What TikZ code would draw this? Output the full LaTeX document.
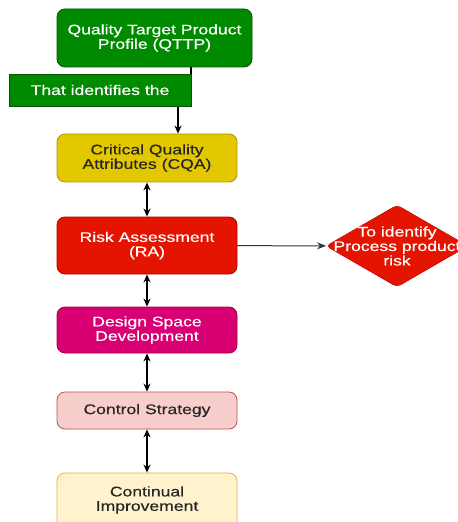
\documentclass[tikz,border=0pt]{standalone}
\usepackage{fontspec}
\setmainfont{Liberation Sans}[FakeStretch=1.26,FakeBold=0.35]
\usetikzlibrary{shapes.geometric,arrows.meta}
\definecolor{gfill}{HTML}{008A00}\definecolor{gline}{HTML}{005700}
\definecolor{yfill}{HTML}{E3C800}\definecolor{yline}{HTML}{B09500}
\definecolor{rfill}{HTML}{E51400}\definecolor{rline}{HTML}{B20000}
\definecolor{mfill}{HTML}{D80073}\definecolor{mline}{HTML}{A50040}
\definecolor{pfill}{HTML}{F8CECC}\definecolor{pline}{HTML}{B85450}
\definecolor{cfill}{HTML}{FFF2CC}\definecolor{cline}{HTML}{D6B656}
\begin{document}
\begin{tikzpicture}[x=1bp,y=-1bp,
  font=\fontsize{14}{14.5}\selectfont,
  box/.style={rounded corners=8bp, minimum width=180bp, align=center, inner sep=0pt, line width=0.8bp},
  conn/.style={line width=1.3bp, {Stealth[length=8bp,width=7bp]}-{Stealth[length=8bp,width=7bp]}},
  oneway/.style={line width=1.3bp, -{Stealth[length=8bp,width=7bp]}}]
\useasboundingbox (0,0) rectangle (458,522);
\node[box, fill=gfill, draw=gline, text=white, minimum width=195bp, minimum height=58bp] (qttp) at (154.5,38) {Quality Target Product\\Profile (QTTP)};
\node[box, fill=yfill, draw=yline, text=black!85, minimum height=48bp] (cqa) at (147,158) {Critical Quality\\Attributes (CQA)};
\node[box, fill=rfill, draw=rline, text=white, minimum height=57bp] (ra) at (147,245.5) {Risk Assessment\\(RA)};
\node[box, fill=mfill, draw=mline, text=white, minimum height=46bp] (dsd) at (147,330) {Design Space\\Development};
\node[box, fill=pfill, draw=pline, text=black!85, minimum height=37bp] (cs) at (147,410.5) {Control Strategy};
\node[box, fill=cfill, draw=cline, text=black!85, minimum height=58bp, text depth=0pt] (ci) at (147,502) {};
\node[align=center, text=black!85] (citext) at (147,500) {Continual\\Improvement};
\node[diamond, fill=rfill, draw=rline, minimum width=142bp, minimum height=82bp, inner sep=0pt, rounded corners=4bp] (dia) at (397,246) {};
\node[align=center, text=white] (diatext) at (397,246) {To identify\\Process product\\risk};
\coordinate (c1) at (191,106);
\coordinate (c2) at (178,106);
\draw[oneway] (qttp.south -| c1) -- (c1) -- (c2) -- (cqa.north -| c2);
\node[fill=gfill, draw=gline, text=white, minimum width=182bp, minimum height=32bp, inner sep=0pt] (lab) at (100,90) {That identifies the};
\draw[conn] (cqa) -- (ra);
\draw[conn] (ra) -- (dsd);
\draw[conn] (dsd) -- (cs);
\draw[conn] (cs) -- (ci);
\draw[line width=1bp, black!80, -{Stealth[length=9bp,width=7bp]}] (ra) -- (dia);
\end{tikzpicture}
\end{document}
